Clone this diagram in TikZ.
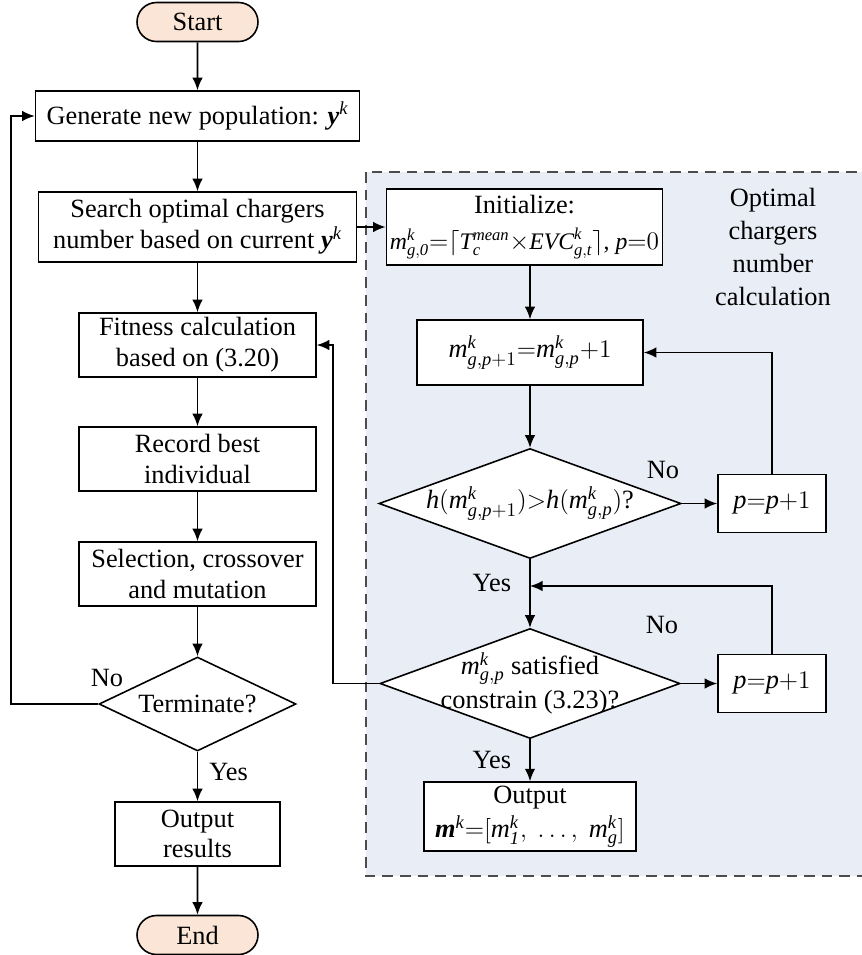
\documentclass[tikz,border=0pt]{standalone}
\usepackage{amsmath, amssymb}
\usepackage{fontspec}
\setmainfont{Liberation Serif}
\usetikzlibrary{arrows.meta, shapes.geometric, shapes.misc}
\definecolor{fondo}{RGB}{233,237,245}
\definecolor{melocoton}{RGB}{251,229,214}
\newcommand{\vit}[1]{\mathit{#1}}
\newcommand{\vbf}[1]{\textbf{\textit{#1}}}

\begin{document}
\begin{tikzpicture}[>={Latex[length=2.5mm,width=2.1mm]}, line width=0.9pt,
    font=\rmfamily\fontsize{15}{17.5}\selectfont,
    caja/.style={draw, fill=white, align=center, inner sep=2pt},
    rombo/.style={draw, fill=white, diamond, inner sep=0pt},
    terminal/.style={draw, fill=melocoton, rounded rectangle, minimum width=2.42cm, minimum height=0.78cm, inner sep=0pt}]
	\useasboundingbox (0,0) rectangle (17.22,-19.1);

	% Zona sombreada (calculo del numero optimo de cargadores)
	\draw[draw=black!70, line width=0.6pt, dash pattern=on 6pt off 4pt, fill=fondo] (7.32,-3.44) rectangle (17.3,-17.52);
	\node[align=center, font=\rmfamily\fontsize{15}{18.7}\selectfont] (titulo) at (15.46,-4.94) {Optimal\\chargers\\number\\calculation};

	% Columna izquierda: algoritmo genetico
	\node[terminal] (start) at (3.95,-0.44) {Start};
	\node[caja, minimum width=6.48cm, minimum height=1cm] (gen) at (3.95,-2.32) {Generate new population: \vbf{y}$^{\vit{k}}$};
	\node[caja, minimum width=6.36cm, minimum height=1.4cm] (search) at (3.95,-4.54) {Search optimal chargers\\number based on current \vbf{y}$^{\vit{k}}$};
	\node[caja, minimum width=4.74cm, minimum height=1.28cm] (fit) at (3.95,-6.9) {Fitness calculation\\based on (3.20)};
	\node[caja, minimum width=4.74cm, minimum height=1.28cm] (rec) at (3.95,-9.18) {Record best\\individual};
	\node[caja, minimum width=4.74cm, minimum height=1.28cm] (sel) at (3.95,-11.48) {Selection, crossover\\and mutation};
	\node[rombo, minimum width=3.94cm, minimum height=1.88cm] (term) at (3.95,-14.08) {};
	\node (termtxt) at (term) {Terminate?};
	\node[caja, minimum width=3.3cm, minimum height=1.28cm] (out) at (3.95,-16.68) {Output\\results};
	\node[terminal] (end) at (3.95,-18.7) {End};

	% Columna derecha
	\node[caja, minimum width=5.38cm, minimum height=1.52cm] (init) at (10.49,-4.54) {Initialize:\\[3pt]{\fontsize{13.5}{16}\selectfont$\vit{m}^{\vit{k}}_{\vit{g,0}}{=}\lceil\vit{T}_{\vit{c}}^{\vit{mean}}{\times}\vit{EVC}^{\vit{k}}_{\vit{g,t}}\rceil$, $\vit{p}{=}0$}};
	\node[caja, minimum width=4.52cm, minimum height=1.3cm] (m) at (10.6,-7.05) {$\vit{m}^{\vit{k}}_{\vit{g,p}{+}1}{=}\vit{m}^{\vit{k}}_{\vit{g,p}}{+}1$};
	\node[rombo, minimum width=6.04cm, minimum height=2.2cm] (hdia) at (10.6,-10.07) {};
	\node (hdiatxt) at (hdia) {$\vit{h}(\vit{m}^{\vit{k}}_{\vit{g,p}{+}1}){>}\vit{h}(\vit{m}^{\vit{k}}_{\vit{g,p}})$?};
	\node[caja, minimum width=2.16cm, minimum height=1.16cm] (p1) at (15.44,-10.07) {$\vit{p}{=}\vit{p}{+}1$};
	\node[rombo, minimum width=6cm, minimum height=2.2cm] (cdia) at (10.6,-13.67) {};
	\node[align=center] (cdiatxt) at (cdia) {$\vit{m}^{\vit{k}}_{\vit{g,p}}$ satisfied\\[2pt]constrain (3.23)?};
	\node[caja, minimum width=2.16cm, minimum height=1.16cm] (p2) at (15.44,-13.67) {$\vit{p}{=}\vit{p}{+}1$};
	\node[caja, minimum width=4.24cm, minimum height=1.3cm] (outm) at (10.6,-16.33) {Output\\[2pt]\vbf{m}$^{\vit{k}}{=}[\vit{m}_{\vit{1}}^{\vit{k}},\ \ldots,\ \vit{m}_{\vit{g}}^{\vit{k}}]$};

	% Flechas de la columna izquierda
	\draw[->] (start) -- (gen);
	\draw[->] (gen) -- (search);
	\draw[->] (search) -- (fit);
	\draw[->] (fit) -- (rec);
	\draw[->] (rec) -- (sel);
	\draw[->] (sel) -- (term.north);
	\draw[->] (term.south) -- node[pos=0.4, right=3pt] (si1) {Yes} (out);
	\draw[->] (out) -- (end);
	\coordinate (izq) at (0.22,-14.08);
	\draw[->] (term.west) -- (izq) |- (gen.west);
	\node (no1) at (2.14,-13.56) {No};

	% Flechas de la columna derecha
	\draw[->] (search.east) -- (init.west);
	\draw[->] (init.south -| m.north) -- (m.north);
	\draw[->] (m) -- (hdia.north);
	\draw[->] (hdia.east) -- (p1.west);
	\node (no2) at (13.26,-9.4) {No};
	\draw[->] (p1.north) |- (m.east);
	\draw[->] (hdia.south) -- node[pos=0.35, left=7pt] (si2) {Yes} (cdia.north);
	\draw[->] (cdia.east) -- (p2.west);
	\node (no3) at (13.24,-12.5) {No};
	\coordinate (union) at (10.6,-11.72);
	\draw[->] (p2.north) |- (union);
	\draw[->] (cdia.south) -- node[pos=0.5, left=7pt] (si3) {Yes} (outm);
	\coordinate (izq2) at (6.66,-13.67);
	\draw[->] (cdia.west) -- (izq2) |- (fit.east);

\end{tikzpicture}
\end{document}
